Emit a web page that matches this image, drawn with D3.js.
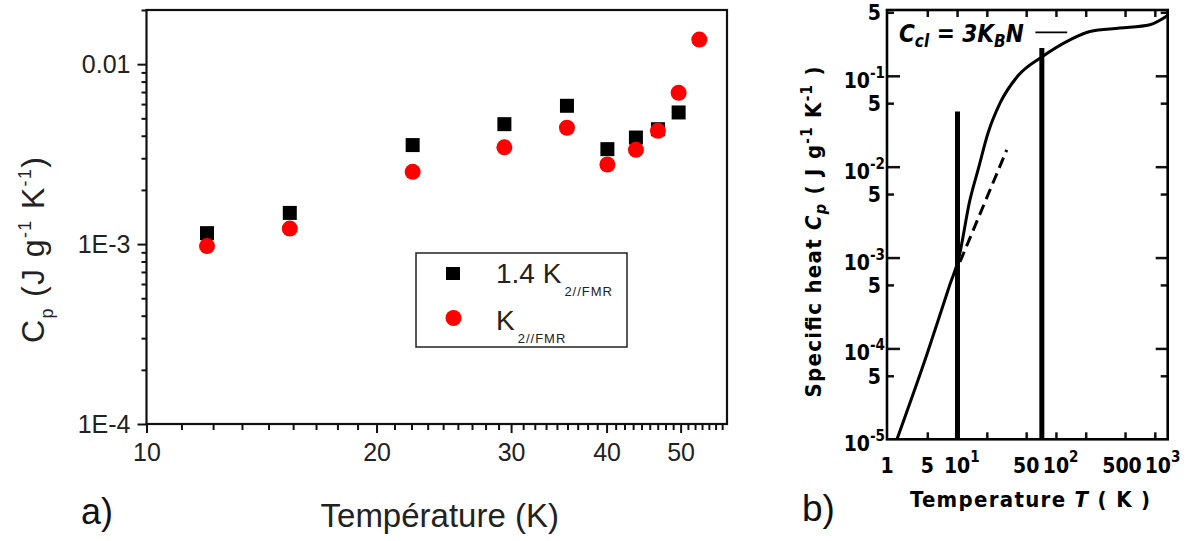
<!DOCTYPE html>
<html><head><meta charset="utf-8">
<script src="https://cdn.jsdelivr.net/npm/d3@7"></script>
<style>body{margin:0;background:#fff}svg{display:block}</style>
</head><body>
<svg id="chart" width="1194" height="541"></svg>
<script>
// ---------- Panel a data ----------
const tempBlack = [12.0, 15.4, 22.3, 29.4, 35.5, 40.1, 43.7, 46.7, 49.7];
const cpBlack   = [1.15e-3, 1.49e-3, 3.55e-3, 4.64e-3, 5.87e-3, 3.37e-3, 3.91e-3, 4.35e-3, 5.39e-3];
const tempRed   = [12.0, 15.4, 22.3, 29.4, 35.5, 40.1, 43.7, 46.7, 49.7, 52.9];
const cpRed     = [0.975e-3, 1.22e-3, 2.52e-3, 3.45e-3, 4.43e-3, 2.77e-3, 3.34e-3, 4.26e-3, 6.93e-3, 13.7e-3];
const legendMain = ["1.4 K", "K"];
const legendSub  = ["2//FMR", "2//FMR"];
const xTicksA = [10, 20, 30, 40, 50];
const yTicksA = [1e-4, 1e-3, 1e-2];
const yTickLabelsA = ["1E-4", "1E-3", "0.01"];

// ---------- Panel b data ----------
const curveT  = [1.49, 5, 8.48, 10.3, 13.5, 16.4, 20.6, 27.2, 41.3, 71.8, 138.7, 221, 444, 893, 1350];
const curveCp = [1e-5, 8.83e-5, 5.08e-4, 9.42e-4, 4.31e-3, 9.46e-3, 0.0236, 0.05, 0.1, 0.161, 0.249, 0.308, 0.335, 0.365, 0.46];
const dashT  = [10.7, 31.8];
const dashCp = [8.95e-4, 0.0153];
const barT   = [10.1, 72];
const barTop = [0.0405, 0.202];
const xTicksB = [1, 5, 10, 20, 50, 100, 200, 500, 1000];
const xLabelValsB = [1, 5, 10, 50, 100, 500, 1000];
const xLabelBaseB = ["1", "5", "10", "50", "10", "500", "10"];
const xLabelSupB  = ["", "", "1", "", "2", "", "3"];
const yDecadesB = [1e-5, 1e-4, 1e-3, 1e-2, 1e-1];
const yDecadeSupB = ["-5", "-4", "-3", "-2", "-1"];
const yFivesB = [5e-5, 5e-4, 5e-3, 5e-2, 5e-1];
const cclValue = 0.3;
const cclRange = [62, 130];

const svg = d3.select("#chart");
const fontA = "'Liberation Sans', Arial, sans-serif";
const fontB = "'DejaVu Sans Condensed', 'DejaVu Sans', sans-serif";

// ================= PANEL A =================
const A = {l: 146.5, r: 727, t: 10, b: 424};
const xA = d3.scaleLog().domain([10, 57.5]).range([A.l, A.r]);
const yA = d3.scaleLog().domain([1e-4, 0.02]).range([A.b, A.t]);
const gA = svg.append("g");

const xMinorA = [];
xTicksA.forEach(m => { for (let k = 1; k <= 8; k++) { const v = m + k * 10 / 9; if (v < 57.5) xMinorA.push(v); } });
const yMinorA = [];
yTicksA.forEach(d => { for (let k = 2; k <= 9; k++) { const v = d * k; if (v <= 0.02) yMinorA.push(v); } });

function styleAxis(g, w) {
  g.select(".domain").remove();
  g.selectAll("line").attr("stroke", "#111").attr("stroke-width", w);
}
gA.append("g").attr("transform", `translate(0,${A.b})`)
  .call(d3.axisBottom(xA).tickValues(xMinorA).tickSize(6).tickFormat(""))
  .call(g => styleAxis(g, 2));
gA.append("g").attr("transform", `translate(0,${A.b})`)
  .call(d3.axisBottom(xA).tickValues(xTicksA).tickSize(9).tickPadding(10).tickFormat(d3.format("d")))
  .call(g => styleAxis(g, 2))
  .call(g => g.selectAll("text").attr("font-family", fontA).attr("font-size", 25).attr("fill", "#222"));
gA.append("g").attr("transform", `translate(${A.l},0)`)
  .call(d3.axisLeft(yA).tickValues(yMinorA).tickSize(5).tickFormat(""))
  .call(g => styleAxis(g, 2));
gA.append("g").attr("transform", `translate(${A.l},0)`)
  .call(d3.axisLeft(yA).tickValues(yTicksA).tickSize(9).tickPadding(7).tickFormat((d, i) => yTickLabelsA[i]))
  .call(g => styleAxis(g, 2))
  .call(g => g.selectAll("text").attr("font-family", fontA).attr("font-size", 25).attr("fill", "#222"));

gA.append("rect").attr("x", A.l).attr("y", A.t).attr("width", A.r - A.l).attr("height", A.b - A.t)
  .attr("fill", "none").attr("stroke", "#111").attr("stroke-width", 2.2);

// markers
const sq = 14;
gA.append("g").selectAll("rect").data(tempBlack.map((t, i) => [t, cpBlack[i]])).join("rect")
  .attr("x", d => xA(d[0]) - sq / 2).attr("y", d => yA(d[1]) - sq / 2)
  .attr("width", sq).attr("height", sq).attr("fill", "#000");
gA.append("g").selectAll("circle").data(tempRed.map((t, i) => [t, cpRed[i]])).join("circle")
  .attr("cx", d => xA(d[0])).attr("cy", d => yA(d[1])).attr("r", 8).attr("fill", "#f00");

// legend
const L = {x: 416, y: 253, w: 211, h: 94};
const gL = gA.append("g");
gL.append("rect").attr("x", L.x).attr("y", L.y).attr("width", L.w).attr("height", L.h)
  .attr("fill", "#fff").attr("stroke", "#222").attr("stroke-width", 1.5);
gL.append("rect").attr("x", L.x + 30).attr("y", L.y + 14).attr("width", 14).attr("height", 13).attr("fill", "#000");
gL.append("circle").attr("cx", L.x + 37.5).attr("cy", L.y + 65).attr("r", 8).attr("fill", "#f00");
[0, 1].forEach(i => {
  const t = gL.append("text").attr("x", L.x + 80).attr("y", L.y + 30 + i * 47)
    .attr("font-family", fontA).attr("font-size", 28).attr("fill", "#222");
  t.append("tspan").text(legendMain[i]);
  t.append("tspan").attr("font-size", 13).attr("dy", 13).attr("dx", 3).attr("letter-spacing", 1).text(legendSub[i]);
});

// titles
const yt = gA.append("text").attr("transform", "translate(44,250) rotate(-90)")
  .attr("text-anchor", "middle").attr("font-family", fontA).attr("font-size", 32).attr("fill", "#222")
  .attr("textLength", 186).attr("lengthAdjust", "spacing");
yt.append("tspan").text("C");
yt.append("tspan").attr("font-size", 18).attr("dy", 9).text("p");
yt.append("tspan").attr("dy", -9).text(" (J g");
yt.append("tspan").attr("font-size", 18).attr("dy", -13).text("-1");
yt.append("tspan").attr("dy", 13).text(" K");
yt.append("tspan").attr("font-size", 18).attr("dy", -13).text("-1");
yt.append("tspan").attr("dy", 13).text(")");

gA.append("text").attr("x", (A.l + A.r) / 2 + 3).attr("y", 527).attr("text-anchor", "middle")
  .attr("font-family", fontA).attr("font-size", 33).attr("fill", "#222").text("Température (K)");
gA.append("text").attr("x", 81).attr("y", 524)
  .attr("font-family", fontA).attr("font-size", 36).attr("fill", "#111").text("a)");

// ================= PANEL B =================
const B = {l: 887, r: 1167.7, t: 10, b: 439.3};
const xB = d3.scaleLog().domain([1, 5, 1350]).range([887, 927.3, 1167.7]);
const yB = d3.scaleLog().domain([1e-5, 0.53]).range([B.b, B.t]);
const gB = svg.append("g");

gB.append("g").attr("transform", `translate(0,${B.b})`)
  .call(d3.axisBottom(xB).tickValues(xTicksB.slice(1)).tickSize(-7).tickFormat(""))
  .call(g => styleAxis(g, 2.5));
gB.append("g").attr("transform", `translate(0,${B.t})`)
  .call(d3.axisTop(xB).tickValues(xTicksB.slice(1)).tickSize(-7).tickFormat(""))
  .call(g => styleAxis(g, 2.5));
gB.append("g").attr("transform", `translate(${B.l},0)`)
  .call(d3.axisLeft(yB).tickValues(yDecadesB.slice(1)).tickSize(-13).tickFormat(""))
  .call(g => styleAxis(g, 2.5));
gB.append("g").attr("transform", `translate(${B.l},0)`)
  .call(d3.axisLeft(yB).tickValues(yFivesB).tickSize(-7).tickFormat(""))
  .call(g => styleAxis(g, 2.5));
gB.append("g").attr("transform", `translate(${B.r},0)`)
  .call(d3.axisRight(yB).tickValues(yDecadesB.slice(1)).tickSize(-12).tickFormat(""))
  .call(g => styleAxis(g, 2.5));
gB.append("g").attr("transform", `translate(${B.r},0)`)
  .call(d3.axisRight(yB).tickValues(yFivesB).tickSize(-7).tickFormat(""))
  .call(g => styleAxis(g, 2.5));

gB.append("rect").attr("x", B.l).attr("y", B.t).attr("width", B.r - B.l).attr("height", B.b - B.t)
  .attr("fill", "none").attr("stroke", "#000").attr("stroke-width", 2.6);

// x tick labels
xLabelValsB.forEach((v, i) => {
  const t = gB.append("text").attr("y", 473).attr("font-family", fontB).attr("font-weight", "bold")
    .attr("font-stretch", "condensed").attr("font-size", 21).attr("fill", "#000");
  const base = t.append("tspan").text(xLabelBaseB[i]);
  if (xLabelSupB[i]) t.append("tspan").attr("font-size", 15).attr("dy", -11).text(xLabelSupB[i]);
  const w = base.node().getComputedTextLength();
  const shift = v === 500 ? -3 : (v === 1000 ? 3 : 0);
  t.attr("x", xB(v) - w / 2 + shift);
});
// y tick labels
yDecadesB.forEach((v, i) => {
  const t = gB.append("text").attr("x", 885).attr("y", yB(v) + 12).attr("text-anchor", "end")
    .attr("font-family", fontB).attr("font-weight", "bold").attr("font-stretch", "condensed")
    .attr("font-size", 21).attr("fill", "#000");
  t.append("tspan").text("10");
  t.append("tspan").attr("font-size", 15).attr("dy", -10).text(yDecadeSupB[i]);
});
yFivesB.forEach(v => {
  gB.append("text").attr("x", 881).attr("y", yB(v) + 8).attr("text-anchor", "end")
    .attr("font-family", fontB).attr("font-weight", "bold").attr("font-stretch", "condensed")
    .attr("font-size", 21).attr("fill", "#000").text("5");
});

// curve, dashed line, bars
const lineB = d3.line().x(d => xB(d[0])).y(d => yB(d[1])).curve(d3.curveMonotoneX);
gB.append("path").datum(curveT.map((t, i) => [t, curveCp[i]])).attr("d", lineB)
  .attr("fill", "none").attr("stroke", "#000").attr("stroke-width", 3);
gB.append("path").datum(dashT.map((t, i) => [t, dashCp[i]])).attr("d", d3.line().x(d => xB(d[0])).y(d => yB(d[1])))
  .attr("fill", "none").attr("stroke", "#000").attr("stroke-width", 3).attr("stroke-dasharray", "11,6");
gB.append("g").selectAll("line").data(barT.map((t, i) => [t, barTop[i]])).join("line")
  .attr("x1", d => xB(d[0])).attr("x2", d => xB(d[0]))
  .attr("y1", d => yB(d[1])).attr("y2", yB(1e-5))
  .attr("stroke", "#000").attr("stroke-width", 5);

// C_cl annotation
gB.append("line").attr("x1", xB(cclRange[0])).attr("x2", xB(cclRange[1]))
  .attr("y1", yB(cclValue)).attr("y2", yB(cclValue)).attr("stroke", "#000").attr("stroke-width", 1.8);
const ct = gB.append("text").attr("x", 899).attr("y", 42).attr("font-family", fontB).attr("font-weight", "bold")
  .attr("font-stretch", "condensed").attr("font-style", "italic").attr("font-size", 24).attr("fill", "#000");
ct.append("tspan").text("C");
ct.append("tspan").attr("font-size", 17).attr("dy", 5).text("cl");
ct.append("tspan").attr("dy", -5).text(" = 3K");
ct.append("tspan").attr("font-size", 17).attr("dy", 5).text("B");
ct.append("tspan").attr("dy", -5).text("N");

// axis titles panel b
const ybt = gB.append("text").attr("transform", "translate(821,232) rotate(-90)").attr("text-anchor", "middle")
  .attr("font-family", fontB).attr("font-weight", "bold").attr("font-stretch", "condensed")
  .attr("font-size", 22).attr("fill", "#000").attr("textLength", 331).attr("lengthAdjust", "spacing");
ybt.append("tspan").text("Specific heat  ");
ybt.append("tspan").attr("font-style", "italic").text("C");
ybt.append("tspan").attr("font-style", "italic").attr("font-size", 16).attr("dy", 5).text("p");
ybt.append("tspan").attr("dy", -5).text(" ( J g");
ybt.append("tspan").attr("font-size", 15).attr("dy", -9).text("-1");
ybt.append("tspan").attr("dy", 9).text(" K");
ybt.append("tspan").attr("font-size", 15).attr("dy", -9).text("-1");
ybt.append("tspan").attr("dy", 9).text(" )");

const xbt = gB.append("text").attr("x", 910).attr("y", 507)
  .attr("font-family", fontB).attr("font-weight", "bold").attr("font-stretch", "condensed")
  .attr("font-size", 22).attr("fill", "#000").attr("textLength", 240).attr("lengthAdjust", "spacing");
xbt.append("tspan").text("Temperature ");
xbt.append("tspan").attr("font-style", "italic").text("T");
xbt.append("tspan").text(" ( K )");

gB.append("text").attr("x", 802).attr("y", 521)
  .attr("font-family", fontA).attr("font-size", 37).attr("fill", "#111").text("b)");
</script>
</body></html>
